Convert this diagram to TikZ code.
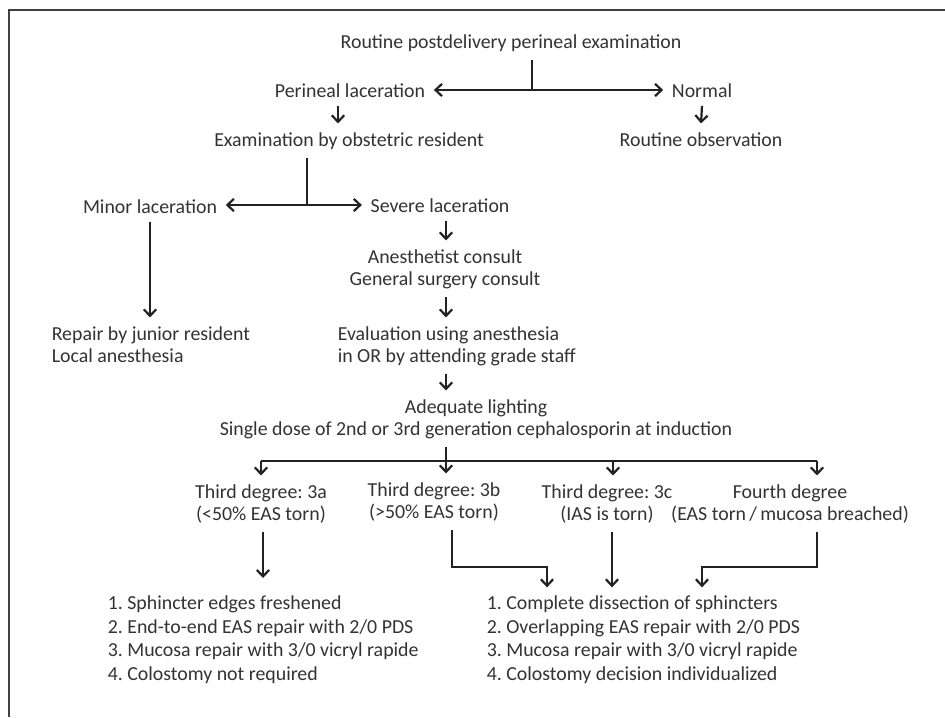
\documentclass[tikz,border=0pt]{standalone}
\usepackage{fontspec}
\setmainfont{Carlito}
\usetikzlibrary{arrows.meta}
\definecolor{txtcol}{HTML}{333333}
\definecolor{lncol}{HTML}{222222}
\begin{document}
\begin{tikzpicture}[x=0.02cm,y=-0.02cm,
  lbl/.style={inner sep=0pt, outer sep=5pt, text=txtcol, font=\fontsize{11.3}{12.5}\selectfont\frenchspacing, anchor=base},
  lst/.style={inner sep=0pt, outer sep=5pt, text=txtcol, font=\fontsize{11.3}{13.3}\selectfont\frenchspacing, align=left},
  plain/.style={draw=lncol, line width=1.25pt},
  arr/.style={plain, -{Straight Barb[length=3.7pt,width=7pt]}},
  frame/.style={draw=black!75, line width=0.9pt}]
\fill[white] (0,0) rectangle (945,717);
\useasboundingbox (0,0) rectangle (945,717);
\draw[frame] (945,10) -- (9,10) -- (9,717);

% nodes (multi-line nodes are placed by the baseline of their last line)
\node[lbl] (root) at (511,48) {Routine postdelivery perineal examination};
\node[lbl] (peri) at (350,97) {Perineal laceration};
\node[lbl] (normal) at (702,97) {Normal};
\node[lbl] (exam) at (349,146) {Examination by obstetric resident};
\node[lbl] (robs) at (701,146) {Routine observation};
\node[lbl] (minor) at (150,213) {Minor laceration};
\node[lbl] (severe) at (440,212) {Severe laceration};
\node[lbl, align=center] (consult) at (445,285) {Anesthetist consult\\General surgery consult};
\node[lbl, align=left, anchor=base west] (repair) at (43,362) {Repair by junior resident\\Local anesthesia};
\node[lbl, align=left, anchor=base west] (eval) at (329,362) {Evaluation using anesthesia\\in OR by attending grade staff};
\node[lbl, align=center] (adeq) at (476,435) {Adequate lighting\\Single dose of 2nd or 3rd generation cephalosporin at induction};
\node[lbl, align=center] (ta) at (261,520) {Third degree: 3a\\(<50\% EAS torn)};
\node[lbl, align=center] (tb) at (434,518) {Third degree: 3b\\(>50\% EAS torn)};
\node[lbl, align=center] (tc) at (607,520) {Third degree: 3c\\(IAS is torn)};
\node[lbl, align=center] (fd) at (790,520) {Fourth degree\\(EAS torn\,/\,mucosa breached)};
\node[lst, anchor=base west] (llist) at (99,680) {1. Sphincter edges freshened\\2. End-to-end EAS repair with 2/0 PDS\\3. Mucosa repair with 3/0 vicryl rapide\\4. Colostomy not required};
\node[lst, anchor=base west] (rlist) at (478,680) {1. Complete dissection of sphincters\\2. Overlapping EAS repair with 2/0 PDS\\3. Mucosa repair with 3/0 vicryl rapide\\4. Colostomy decision individualized};

% junctions
\coordinate (j1) at (532,90);
\coordinate (j2) at (307,205);
\coordinate (j3) at (446,461);

% connectors
\draw[plain] (root.south -| j1) -- (j1);
\draw[arr] (j1) -- (j1 -| peri.east);
\draw[arr] (j1) -- (j1 -| normal.west);
\draw[arr] (peri.south -| 338,0) -- (exam.north -| 338,0);
\draw[arr] (normal.south) -- (robs.north);
\draw[plain] (exam.south -| j2) -- (j2);
\draw[arr] (j2) -- (j2 -| minor.east);
\draw[arr] (j2) -- (j2 -| severe.west);
\draw[arr] (minor.south) -- (repair.north -| minor.south);
\draw[arr] (severe.south -| 446,0) -- (consult.north -| 446,0);
\draw[arr] (consult.south -| 446,0) -- (eval.north -| 446,0);
\draw[arr] (eval.south -| 446,0) -- (adeq.north -| 446,0);
\draw[plain] (adeq.south -| j3) -- (j3);
\draw[arr] (j3) -- (tb.north -| j3);
\draw[plain] (261,461) -- (817,461);
\draw[arr] (261,461) -- (ta.north -| 261,0);
\draw[arr] (613,461) -- (tc.north -| 613,0);
\draw[arr] (817,461) -- (fd.north -| 817,0);
\draw[arr] (ta.south -| 263,0) -- (263,578);
\draw[arr] (tb.south -| 452,0) |- (547,567) -- (rlist.north -| 547,0);
\draw[arr] (tc.south -| 612,0) -- (rlist.north -| 612,0);
\draw[arr] (fd.south -| 817,0) |- (702,567) -- (rlist.north -| 702,0);
\end{tikzpicture}
\end{document}
